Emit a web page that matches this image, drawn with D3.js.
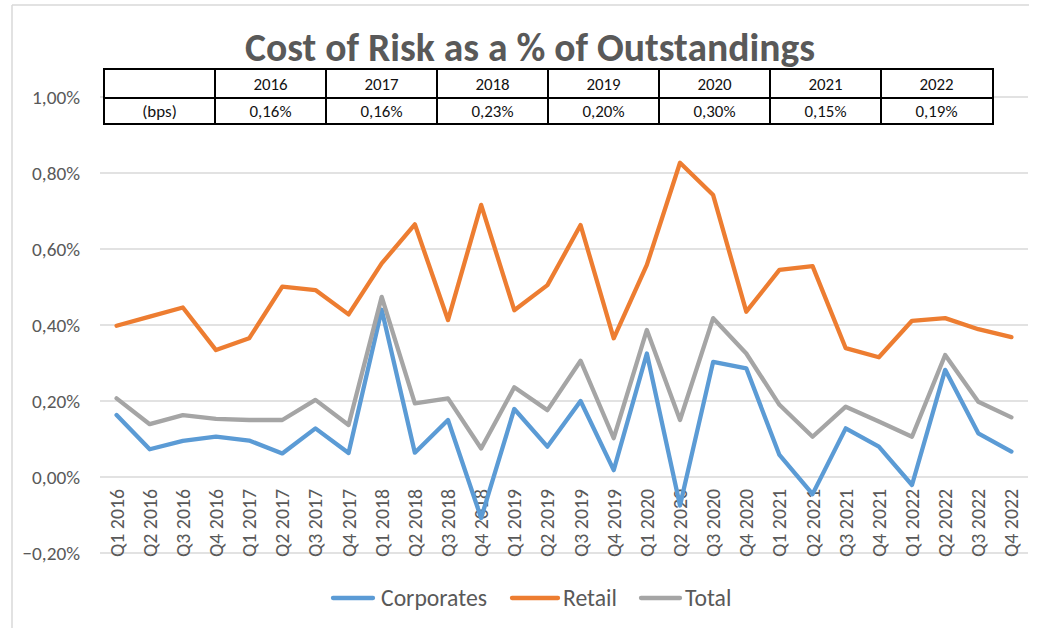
<!DOCTYPE html>
<html>
<head>
<meta charset="utf-8">
<script src="https://cdn.jsdelivr.net/npm/d3@7"></script>
<style>
  body { margin: 0; background: #fff; }
  text { font-family: Calibri, Carlito, Lato, sans-serif; }
</style>
</head>
<body>
<div id="chart"></div>
<script>
const quarters = []
const years = ["2016", "2017", "2018", "2019", "2020", "2021", "2022"]
years.forEach(y => ["Q1", "Q2", "Q3", "Q4"].forEach(q => quarters.push(q + " " + y)))

const corporates = [0.163, 0.073, 0.095, 0.106, 0.096, 0.062, 0.128, 0.063,
  0.44, 0.064, 0.150, -0.108, 0.179, 0.080, 0.200, 0.018,
  0.325, -0.075, 0.303, 0.286, 0.058, -0.045, 0.128, 0.080,
  -0.021, 0.282, 0.115, 0.067]
const retail = [0.398, 0.422, 0.446, 0.334, 0.365, 0.501, 0.492, 0.428,
  0.562, 0.665, 0.413, 0.716, 0.439, 0.505, 0.663, 0.365,
  0.558, 0.827, 0.742, 0.435, 0.545, 0.555, 0.339, 0.315,
  0.411, 0.418, 0.389, 0.368]
const total = [0.207, 0.139, 0.163, 0.153, 0.150, 0.150, 0.203, 0.137,
  0.474, 0.194, 0.207, 0.075, 0.236, 0.176, 0.306, 0.102,
  0.387, 0.150, 0.418, 0.325, 0.190, 0.106, 0.185, 0.146,
  0.106, 0.321, 0.198, 0.157]

const tableYears = years
const tableBps = ["0,16%", "0,16%", "0,23%", "0,20%", "0,30%", "0,15%", "0,19%"]

const series = [
  { name: "Corporates", values: corporates, color: "#5B9BD5" },
  { name: "Retail", values: retail, color: "#ED7D31" },
  { name: "Total", values: total, color: "#A5A5A5" }
]
const yTicks = [-0.2, 0, 0.2, 0.4, 0.6, 0.8, 1.0]

const W = 1039, H = 628
const svg = d3.select("#chart").append("svg")
  .attr("width", W).attr("height", H)

// pick a font size so a sample string gets the width it has in the picture
function fitSize(sample, width, weight) {
  const t = svg.append("text").attr("font-size", 100).attr("font-weight", weight || "normal").text(sample)
  const w = t.node().getComputedTextLength()
  t.remove()
  return 100 * width / w
}
const tickSize = fitSize("0,80%", 48)
const xSize = fitSize("Q1 2016", 68)
const tableSize = fitSize("0,16%", 42)
const legendSize = fitSize("Corporates", 106)
const titleSize = fitSize("Cost of Risk as a % of Outstandings", 570, "bold")

// chart frame (only top and left visible)
svg.append("line").attr("x1", 12).attr("x2", 1029).attr("y1", 5).attr("y2", 5)
  .attr("stroke", "#d9d9d9").attr("stroke-width", 1.5)
svg.append("line").attr("x1", 12).attr("x2", 12).attr("y1", 5).attr("y2", H)
  .attr("stroke", "#d9d9d9").attr("stroke-width", 1.5)

const x = d3.scaleBand().domain(quarters).range([100, 1028])
const y = d3.scaleLinear().domain([-0.2, 1.0]).range([553, 97])
const fmt = v => d3.format(".2f")(v).replace(".", ",") + "%"

// gridlines
svg.append("g").selectAll("line").data(yTicks).join("line")
  .attr("x1", 100).attr("x2", 1028)
  .attr("y1", d => y(d)).attr("y2", d => y(d))
  .attr("stroke", "#d9d9d9").attr("stroke-width", 1.3)

// y labels
svg.append("g").selectAll("text").data(yTicks).join("text")
  .attr("x", 80).attr("y", d => y(d))
  .attr("dy", "0.35em").attr("text-anchor", "end")
  .attr("font-size", tickSize).attr("fill", "#595959")
  .text(fmt)

// x labels (rotated, hanging below the zero line)
svg.append("g").selectAll("text").data(quarters).join("text")
  .attr("transform", d => `translate(${x(d) + x.bandwidth() / 2},${y(0) + 12}) rotate(-90)`)
  .attr("text-anchor", "end").attr("dy", "0.35em")
  .attr("font-size", xSize).attr("fill", "#595959")
  .text(d => d)

// lines
const line = d3.line()
  .x((d, i) => x(quarters[i]) + x.bandwidth() / 2)
  .y(d => y(d))
svg.append("g").selectAll("path").data(series).join("path")
  .attr("d", s => line(s.values))
  .attr("fill", "none").attr("stroke", s => s.color)
  .attr("stroke-width", 4.3).attr("stroke-linejoin", "round").attr("stroke-linecap", "round")

// title
svg.append("text").attr("x", 530).attr("y", 61)
  .attr("text-anchor", "middle").attr("font-size", titleSize).attr("font-weight", "bold")
  .attr("fill", "#595959").text("Cost of Risk as a % of Outstandings")

// table
const colX = i => 104 + 111 * i
const rowY = [69, 98, 124]
const tbl = svg.append("g")
tbl.append("rect").attr("x", 104).attr("y", rowY[0]).attr("width", 889).attr("height", rowY[2] - rowY[0])
  .attr("fill", "#fff").attr("stroke", "#000").attr("stroke-width", 2)
tbl.append("line").attr("x1", 104).attr("x2", 993).attr("y1", rowY[1]).attr("y2", rowY[1])
  .attr("stroke", "#000").attr("stroke-width", 2)
tbl.selectAll(".col").data(d3.range(1, 8)).join("line")
  .attr("x1", i => colX(i)).attr("x2", i => colX(i))
  .attr("y1", rowY[0]).attr("y2", rowY[2])
  .attr("stroke", "#000").attr("stroke-width", 2)
const cells = [{ t: "", c: 0, r: 0 }, { t: "(bps)", c: 0, r: 1 }]
tableYears.forEach((t, i) => cells.push({ t, c: i + 1, r: 0 }))
tableBps.forEach((t, i) => cells.push({ t, c: i + 1, r: 1 }))
tbl.selectAll("text").data(cells).join("text")
  .attr("x", d => colX(d.c) + 55.5)
  .attr("y", d => (rowY[d.r] + rowY[d.r + 1]) / 2)
  .attr("dy", "0.36em").attr("text-anchor", "middle")
  .attr("font-size", tableSize).attr("fill", "#111")
  .text(d => d.t)

// legend
const legendX = [333, 512, 641]
const lg = svg.append("g").selectAll("g").data(series).join("g")
  .attr("transform", (s, i) => `translate(${legendX[i]},598)`)
lg.append("line").attr("x1", 0).attr("x2", s => s.name === "Total" ? 39 : (s.name === "Retail" ? 46 : 40))
  .attr("stroke", s => s.color).attr("stroke-width", 4.3).attr("stroke-linecap", "round")
lg.append("text").attr("x", s => s.name === "Corporates" ? 48 : (s.name === "Retail" ? 51 : 44)).attr("dy", "0.35em")
  .attr("font-size", legendSize).attr("fill", "#595959").text(s => s.name)
</script>
</body>
</html>
